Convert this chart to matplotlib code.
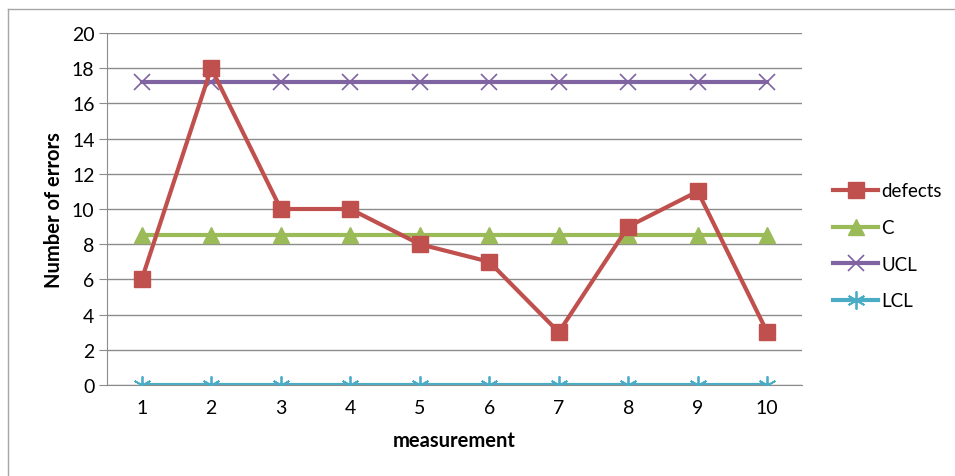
import matplotlib.pyplot as plt
from matplotlib.lines import Line2D

# data
measurement = [1, 2, 3, 4, 5, 6, 7, 8, 9, 10]
defects = [6, 18, 10, 10, 8, 7, 3, 9, 11, 3]
c_line = [8.5] * 10
ucl = [17.2] * 10
lcl = [0] * 10
y_ticks = [0, 2, 4, 6, 8, 10, 12, 14, 16, 18, 20]

plt.rcParams['font.family'] = ['Lato', 'DejaVu Sans']

fig = plt.figure(figsize=(9.55, 4.77), dpi=100)
W, H = 955, 477
ax = fig.add_axes([107 / W, 1 - 386 / H, (802 - 107) / W, (386 - 34) / H])

# chart frame (only top and left visible in the crop)
fig.add_artist(Line2D([8 / W, 1], [1 - 10 / H, 1 - 10 / H], color='#a6a6a6', lw=1))
fig.add_artist(Line2D([8 / W, 8 / W], [1 - 10 / H, 0], color='#a6a6a6', lw=1))

ax.plot(measurement, defects, color='#c0504d', lw=3, marker='s', ms=11,
        label='defects', zorder=5)
ax.plot(measurement, c_line, color='#9bbb59', lw=3, marker='^', ms=11,
        label='C', zorder=3)
ax.plot(measurement, ucl, color='#8064a2', lw=3, marker='x', ms=11, mew=1.2,
        label='UCL', zorder=4)
ax.plot(measurement, lcl, color='#4bacc6', lw=3, marker=(6, 2, 0), ms=13, mew=1.3,
        label='LCL', zorder=4)

ax.set_xlim(0.5, 10.5)
ax.set_ylim(0, 20)
ax.set_yticks(y_ticks)
ax.set_xticks(measurement)
ax.yaxis.grid(True, color='#8c8c8c', lw=1)
ax.set_axisbelow(True)
for s in ['top', 'right']:
    ax.spines[s].set_visible(False)
ax.spines['left'].set_color('#8c8c8c')
ax.spines['bottom'].set_color('#8c8c8c')
ax.tick_params(axis='y', length=6, color='#8c8c8c', labelsize=14, pad=3)
ax.tick_params(axis='x', length=0, labelsize=14, pad=10)

ax.set_xlabel('measurement', fontsize=14.5, fontweight='bold', labelpad=10)
ax.set_ylabel('Number of errors', fontsize=14.5, fontweight='bold', labelpad=6)

ax.legend(loc='center left', bbox_to_anchor=(1.045, 0.395), frameon=False,
          borderaxespad=0, borderpad=0,
          fontsize=13.5, handlelength=2.4, labelspacing=1.05, handletextpad=0.15)

fig.savefig('out.png', dpi=100)
